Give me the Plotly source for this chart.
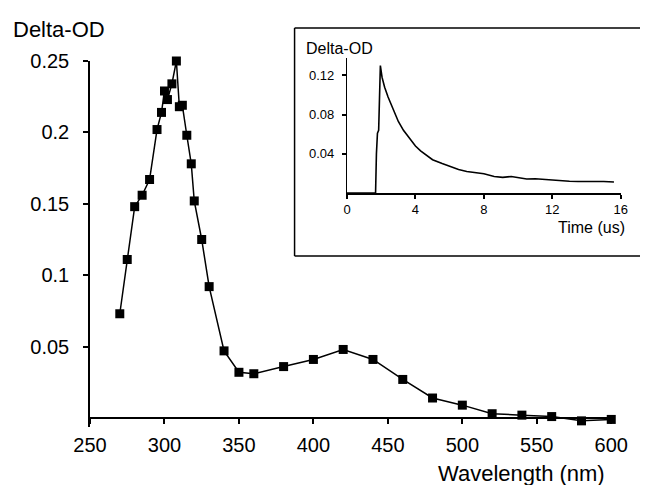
import plotly.graph_objects as go

# Main spectrum
wavelength = [270, 275, 280, 285, 290, 295, 298, 300, 302, 305, 308, 310, 312, 315, 318,
              320, 325, 330, 340, 350, 360, 380, 400, 420, 440, 460, 480, 500, 520, 540,
              560, 580, 600]
delta_od = [0.073, 0.111, 0.148, 0.156, 0.167, 0.202, 0.214, 0.229, 0.223, 0.234, 0.250,
            0.218, 0.219, 0.198, 0.178, 0.152, 0.125, 0.092, 0.047, 0.032, 0.031, 0.036,
            0.041, 0.048, 0.041, 0.027, 0.014, 0.009, 0.003, 0.002, 0.001, -0.002, -0.001]
x_ticks = [250, 300, 350, 400, 450, 500, 550, 600]
y_ticks = [0.05, 0.1, 0.15, 0.2, 0.25]
y_ticklabels = ["0.05", "0.1", "0.15", "0.2", "0.25"]

# Inset kinetic trace
time_us = [0, 1.67, 1.72, 1.78, 1.85, 1.90, 1.95, 2.05, 2.2, 2.4, 2.68, 3.0, 3.3, 3.64,
           4.0, 4.3, 4.6, 5.0, 5.56, 6.0, 6.52, 7.0, 7.5, 8.0, 8.6, 9.1, 9.6, 10.0, 10.5,
           11.0, 11.5, 12.0, 12.5, 13.0, 13.5, 14.0, 14.4, 15.0, 15.6]
trace_od = [0.0, 0.0, 0.040, 0.061, 0.064, 0.120, 0.130, 0.118, 0.108, 0.098, 0.086, 0.073,
            0.064, 0.056, 0.048, 0.043, 0.039, 0.034, 0.030, 0.027, 0.024, 0.022, 0.0205,
            0.0197, 0.0168, 0.0160, 0.0168, 0.0155, 0.0143, 0.0145, 0.0138, 0.0132, 0.0122,
            0.0120, 0.0118, 0.0120, 0.0116, 0.0118, 0.0113]
inset_x_ticks = [0, 4, 8, 12, 16]
inset_y_ticks = [0.04, 0.08, 0.12]

W, H = 648, 485
L, R, T, B = 82, 20, 40, 60
pw, ph = W - L - R, H - T - B


def px(x):
    return (x - L) / pw


def py(y):
    return (H - B - y) / ph


font = "Arial, Liberation Sans, sans-serif"
Y_PER_UNIT = 357 / 0.25
Y_MIN = -0.006

fig = go.Figure()
fig.add_trace(go.Scatter(
    x=wavelength, y=delta_od, mode="lines+markers",
    line=dict(color="black", width=1.5),
    marker=dict(symbol="square", size=9, color="black"),
    cliponaxis=False, xaxis="x", yaxis="y", showlegend=False))

fig.add_trace(go.Scatter(
    x=time_us, y=trace_od, mode="lines",
    line=dict(color="black", width=1.6),
    cliponaxis=False, xaxis="x2", yaxis="y2", showlegend=False))

fig.update_layout(
    width=W, height=H,
    margin=dict(l=L, r=R, t=T, b=B),
    paper_bgcolor="white", plot_bgcolor="white",
    font=dict(family=font, color="black"),
    xaxis=dict(domain=[0, px(612)], range=[250, 600], tickvals=x_ticks,
               showline=True, linecolor="black", linewidth=2, ticks="outside",
               ticklen=5, tickwidth=1.5, tickcolor="black", showgrid=False,
               zeroline=False, tickfont=dict(size=20, family=font),
               ticklabelstandoff=4, anchor="free", position=py(410)),
    yaxis=dict(domain=[py(410 - Y_MIN * Y_PER_UNIT), py(53)], range=[Y_MIN, 0.25],
               tickvals=y_ticks, ticktext=y_ticklabels,
               showline=True, linecolor="black", linewidth=1.5, ticks="outside",
               ticklen=5, tickwidth=1.5, tickcolor="black", showgrid=False,
               zeroline=False, tickfont=dict(size=20, family=font),
               ticklabelstandoff=10, anchor="x"),
    xaxis2=dict(domain=[px(343.3), px(621.7)], range=[0, 16], tickvals=inset_x_ticks,
                showline=True, linecolor="black", linewidth=1.5, ticks="outside",
                ticklen=4, tickwidth=1.5, tickcolor="black", showgrid=False,
                zeroline=False, tickfont=dict(size=13, family=font),
                ticklabelstandoff=0, anchor="y2"),
    yaxis2=dict(domain=[py(185), py(50)], range=[0, 0.1378], tickvals=inset_y_ticks,
                ticktext=["0.04", "0.08", "0.12"],
                showline=True, linecolor="black", linewidth=1.2, ticks="outside",
                ticklen=4, tickwidth=1.5, tickcolor="black", showgrid=False,
                zeroline=False, tickfont=dict(size=13, family=font),
                ticklabelstandoff=5, anchor="x2"),
)

# Inset frame
line_style = dict(color="black", width=1.5)
fig.add_shape(type="line", xref="paper", yref="paper", x0=px(290), x1=px(648),
              y0=py(20), y1=py(20), line=line_style)
fig.add_shape(type="line", xref="paper", yref="paper", x0=px(290), x1=px(290),
              y0=py(20), y1=py(248), line=line_style)
fig.add_shape(type="line", xref="paper", yref="paper", x0=px(290), x1=px(648),
              y0=py(248), y1=py(248), line=line_style)
fig.add_shape(type="line", xref="paper", yref="paper", x0=px(643), x1=px(643),
              y0=py(30), y1=py(46), line=dict(color="#bbbbbb", width=1.2))
fig.add_shape(type="line", xref="paper", yref="paper", x0=px(643), x1=px(643),
              y0=py(200), y1=py(230), line=dict(color="#bbbbbb", width=1.2))

# Text labels
fig.add_annotation(text="Delta-OD", xref="paper", yref="paper", x=px(2), y=py(22),
                   xanchor="left", yanchor="middle", showarrow=False,
                   font=dict(size=22, family=font, color="black"))
fig.add_annotation(text="Wavelength (nm)", xref="paper", yref="paper", x=px(608), y=py(465),
                   xanchor="right", yanchor="middle", showarrow=False,
                   font=dict(size=22, family=font, color="black"))
fig.add_annotation(text="Delta-OD", xref="paper", yref="paper", x=px(300), y=py(40),
                   xanchor="left", yanchor="middle", showarrow=False,
                   font=dict(size=16, family=font, color="black"))
fig.add_annotation(text="Time (us)", xref="paper", yref="paper", x=px(628), y=py(219),
                   xanchor="right", yanchor="middle", showarrow=False,
                   font=dict(size=16, family=font, color="black"))

fig.write_html("out.html")
